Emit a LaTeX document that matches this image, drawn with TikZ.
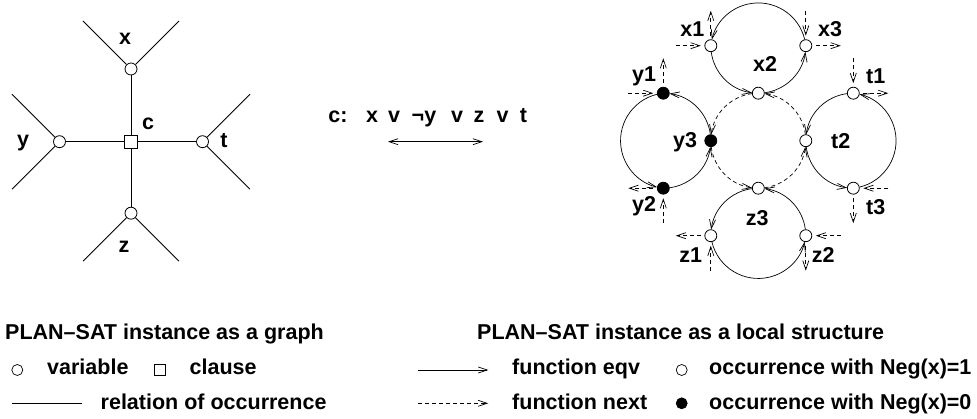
\documentclass[tikz,border=0pt]{standalone}
\usepackage{fontspec}
\setmainfont{Liberation Sans}
\usetikzlibrary{arrows.meta}
\begin{document}
\begin{tikzpicture}[x=1pt,y=1pt,
  every node/.style={font=\fontsize{21.5}{25}\selectfont\bfseries, inner sep=0pt},
  txt/.style={anchor=base west},
  var/.style={circle, draw, fill=white, minimum size=12pt, line width=0.8pt},
  cls/.style={rectangle, draw, fill=white, minimum size=12.5pt, line width=0.8pt},
  occa/.style={circle, draw, fill=white, minimum size=12pt, line width=0.8pt},
  occb/.style={circle, draw, fill=black, minimum size=12pt, line width=0.8pt},
  rel/.style={line width=0.8pt},
  eqv/.style={line width=0.7pt, -{Straight Barb[length=9pt,width=6pt]}},
  nxt/.style={line width=0.7pt, dash pattern=on 4pt off 3pt, -{Straight Barb[length=9pt,width=6pt]}},
]
\useasboundingbox (0,0) rectangle (977,419);

% ---------------- left graph ----------------
\node[var] (vx) at (131,350) {};
\node[cls] (c) at (131,277.3) {};
\node[var] (vy) at (59.5,277.3) {};
\node[var] (vt) at (202.5,277.3) {};
\node[var] (vz) at (131,205.8) {};
\coordinate (xa) at (83,398); \coordinate (xb) at (179,398);
\coordinate (ya) at (12,324.8); \coordinate (yb) at (12,229.8);
\coordinate (ta) at (250,324.8); \coordinate (tb) at (250,229.8);
\coordinate (za) at (83,157.8); \coordinate (zb) at (179,157.8);
\draw[rel] (xa) -- (vx); \draw[rel] (xb) -- (vx);
\draw[rel] (ya) -- (vy); \draw[rel] (yb) -- (vy);
\draw[rel] (ta) -- (vt); \draw[rel] (tb) -- (vt);
\draw[rel] (za) -- (vz); \draw[rel] (zb) -- (vz);
\draw[rel] (vx) -- (c); \draw[rel] (c) -- (vz);
\draw[rel] (vy) -- (c); \draw[rel] (c) -- (vt);
\node (lx) at (125,380) {x};
\node (lc) at (148,295) {c};
\node (ly) at (23,276) {y};
\node (lt) at (224,278) {t};
\node (lz) at (124,172.3) {z};

% ---------------- formula ----------------
\node[anchor=base] (f1) at (338,296) {c:};
\node[anchor=base] (f2) at (372,296) {x};
\node[anchor=base] (f3) at (394,296) {v};
\node[anchor=base] (f4) at (424,296) {¬y};
\node[anchor=base] (f5) at (457,296) {v};
\node[anchor=base] (f6) at (479,296) {z};
\node[anchor=base] (f7) at (502.5,296) {v};
\node[anchor=base] (f8) at (523.5,296) {t};
\coordinate (da) at (388,277.3); \coordinate (db) at (483,277.3);
\draw[line width=0.7pt, {Straight Barb[length=9pt,width=6pt]}-{Straight Barb[length=9pt,width=6pt]}] (da) -- (db);

% ---------------- local structure ----------------
\coordinate (cT) at (758.3,373.3);
\coordinate (cM) at (758.3,278.3);
\coordinate (cL) at (663.3,278.3);
\coordinate (cR) at (853.3,278.3);
\coordinate (cB) at (758.3,183.3);
\coordinate (cTo) at (758.3,368.3);
\coordinate (cLo) at (668.3,278.3);
\coordinate (cRo) at (848.3,278.3);
\coordinate (cBo) at (758.3,188.3);

% arcs (function eqv)
\draw[eqv] ([shift={(13.5:47.76pt)}]cTo) arc[start angle=13.5, end angle=166.5, radius=47.76pt];
\draw[eqv] ([shift={(187.5:47.5pt)}]cT) arc[start angle=187.5, end angle=262.5, radius=47.5pt];
\draw[eqv] ([shift={(277.5:47.5pt)}]cT) arc[start angle=277.5, end angle=352.5, radius=47.5pt];

\draw[eqv] ([shift={(103.5:47.76pt)}]cLo) arc[start angle=103.5, end angle=256.5, radius=47.76pt];
\draw[eqv] ([shift={(277.5:47.5pt)}]cL) arc[start angle=277.5, end angle=352.5, radius=47.5pt];
\draw[eqv] ([shift={(7.5:47.5pt)}]cL) arc[start angle=7.5, end angle=82.5, radius=47.5pt];

\draw[eqv] ([shift={(97.5:47.5pt)}]cR) arc[start angle=97.5, end angle=172.5, radius=47.5pt];
\draw[eqv] ([shift={(187.5:47.5pt)}]cR) arc[start angle=187.5, end angle=262.5, radius=47.5pt];
\draw[eqv] ([shift={(283.5:47.76pt)}]cRo) arc[start angle=283.5, end angle=436.5, radius=47.76pt];

\draw[eqv] ([shift={(97.5:47.5pt)}]cB) arc[start angle=97.5, end angle=172.5, radius=47.5pt];
\draw[eqv] ([shift={(193.5:47.76pt)}]cBo) arc[start angle=193.5, end angle=346.5, radius=47.76pt];
\draw[eqv] ([shift={(7.5:47.5pt)}]cB) arc[start angle=7.5, end angle=82.5, radius=47.5pt];

% middle dashed circle (function next)
\draw[nxt] ([shift={(97.5:47.5pt)}]cM) arc[start angle=97.5, end angle=172.5, radius=47.5pt];
\draw[nxt] ([shift={(187.5:47.5pt)}]cM) arc[start angle=187.5, end angle=262.5, radius=47.5pt];
\draw[nxt] ([shift={(277.5:47.5pt)}]cM) arc[start angle=277.5, end angle=352.5, radius=47.5pt];
\draw[nxt] ([shift={(7.5:47.5pt)}]cM) arc[start angle=7.5, end angle=82.5, radius=47.5pt];

% occurrence nodes
\node[occa] (x1) at (710.8,373.3) {};
\node[occa] (x3) at (805.8,373.3) {};
\node[occa] (x2) at (758.3,325.8) {};
\node[occb] (y1) at (663.3,325.8) {};
\node[occb] (y3) at (710.8,278.3) {};
\node[occb] (y2) at (663.3,230.8) {};
\node[occa] (t1) at (853.3,325.8) {};
\node[occa] (t2) at (805.8,278.3) {};
\node[occa] (t3) at (853.3,230.8) {};
\node[occa] (z3) at (758.3,230.8) {};
\node[occa] (z1) at (710.8,183.3) {};
\node[occa] (z2) at (805.8,183.3) {};

% short next arrows
\draw[nxt] ([xshift=-35pt]x1.center) -- ([xshift=-10pt]x1.center);
\draw[nxt] ([yshift=10pt]x1.center) -- ([yshift=35pt]x1.center);
\draw[nxt] ([yshift=35pt]x3.center) -- ([yshift=10pt]x3.center);
\draw[nxt] ([xshift=10pt]x3.center) -- ([xshift=35pt]x3.center);
\draw[nxt] ([xshift=-35pt]y1.center) -- ([xshift=-10pt]y1.center);
\draw[nxt] ([yshift=10pt]y1.center) -- ([yshift=35pt]y1.center);
\draw[nxt] ([yshift=35pt]t1.center) -- ([yshift=10pt]t1.center);
\draw[nxt] ([xshift=10pt]t1.center) -- ([xshift=35pt]t1.center);
\draw[nxt] ([xshift=-10pt]y2.center) -- ([xshift=-35pt]y2.center);
\draw[nxt] ([yshift=-35pt]y2.center) -- ([yshift=-10pt]y2.center);
\draw[nxt] ([xshift=35pt]t3.center) -- ([xshift=10pt]t3.center);
\draw[nxt] ([yshift=-10pt]t3.center) -- ([yshift=-35pt]t3.center);
\draw[nxt] ([xshift=-10pt]z1.center) -- ([xshift=-35pt]z1.center);
\draw[nxt] ([yshift=-35pt]z1.center) -- ([yshift=-10pt]z1.center);
\draw[nxt] ([xshift=35pt]z2.center) -- ([xshift=10pt]z2.center);
\draw[nxt] ([yshift=-10pt]z2.center) -- ([yshift=-35pt]z2.center);

% labels
\node (lx1) at (692.3,390) {x1};
\node (lx3) at (830,390) {x3};
\node (lx2) at (765,355) {x2};
\node (ly1) at (644,343) {y1};
\node (lt1) at (875.7,343) {t1};
\node (ly3) at (685,277) {y3};
\node (lt2) at (840.7,278) {t2};
\node (ly2) at (644,212.3) {y2};
\node (lz3) at (757.3,200.7) {z3};
\node (lt3) at (875.7,212.3) {t3};
\node (lz1) at (690.7,164) {z1};
\node (lz2) at (823.3,164) {z2};

% ---------------- legend ----------------
\node[txt] (h1) at (5,79) {PLAN--SAT instance as a graph};
\node[circle, draw, minimum size=11pt, line width=0.7pt] (lgv) at (17.3,49) {};
\node[txt] (tv) at (47,44) {variable};
\node[rectangle, draw, minimum size=11pt, line width=0.7pt] (lgc) at (160,49) {};
\node[txt] (tc) at (189.5,44) {clause};
\coordinate (ra) at (11.7,15.7); \coordinate (rb) at (81.7,15.7);
\draw[rel] (ra) -- (rb);
\node[txt] (tr) at (100.5,9) {relation of occurrence};

\node[txt] (h2) at (477,79) {PLAN--SAT instance as a local structure};
\coordinate (ea) at (418.3,49); \coordinate (eb) at (488.3,49);
\draw[eqv] (ea) -- (eb);
\node[txt] (te) at (512,44) {function eqv};
\coordinate (na) at (418.3,15.7); \coordinate (nb) at (488.3,15.7);
\draw[nxt] (na) -- (nb);
\node[txt] (tn) at (512,9) {function next};
\node[circle, draw, minimum size=11pt, line width=0.7pt] (lo1) at (681.7,49) {};
\node[txt] (to1) at (709,44) {occurrence with Neg(x)=1};
\node[circle, draw, fill=black, minimum size=11pt, line width=0.7pt] (lo0) at (681.7,15.7) {};
\node[txt] (to0) at (709,9) {occurrence with Neg(x)=0};
\end{tikzpicture}
\end{document}
